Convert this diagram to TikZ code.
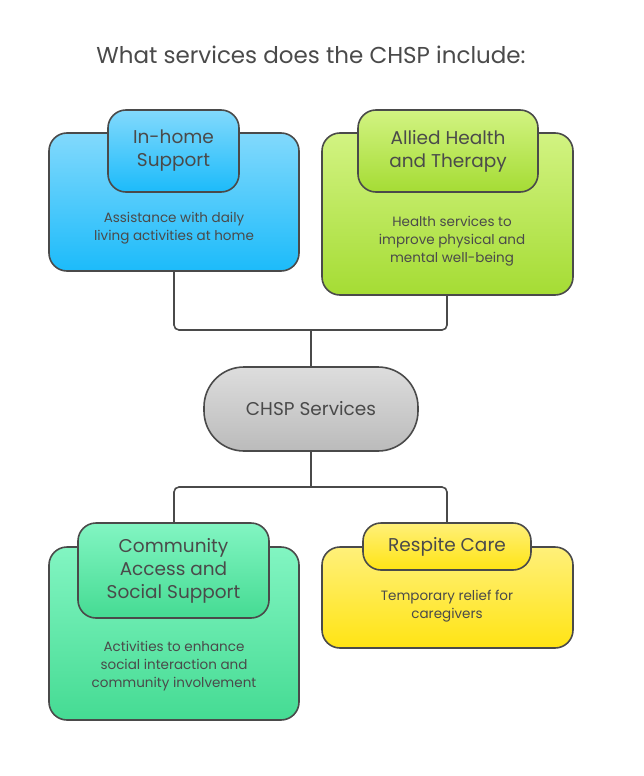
\documentclass[tikz,border=0pt]{standalone}
\usepackage{fontspec}
\setmainfont{Poppins}
\definecolor{bT}{HTML}{82D9FC}\definecolor{bB}{HTML}{1CBBFA}
\definecolor{gT}{HTML}{D2F382}\definecolor{gB}{HTML}{A5DC34}
\definecolor{tT}{HTML}{82F5C2}\definecolor{tB}{HTML}{45DB93}
\definecolor{yT}{HTML}{FFF07A}\definecolor{yB}{HTML}{FFE414}
\definecolor{cT}{HTML}{DDDDDD}\definecolor{cB}{HTML}{BBBBBB}
\definecolor{tx}{HTML}{4A4A4A}
\begin{document}
\begin{tikzpicture}[x=1pt,y=-1pt,
 box/.style={draw=tx,line width=1.6pt,rounded corners=18pt,inner sep=0pt},
 hd/.style={font=\fontsize{18.5}{23}\selectfont,text=tx,align=center},
 ds/.style={font=\fontsize{13.5}{18}\selectfont,text=tx,align=center},
 ln/.style={draw=tx,line width=1.6pt,rounded corners=5pt}]
\useasboundingbox (0,0) rectangle (644,776);
\fill[white] (0,0) rectangle (644,776);
\node[font=\fontsize{23}{26}\selectfont,text=tx] (title) at (311,55) {What services does the CHSP include:};
% connectors
\coordinate (j1) at (311,330);
\coordinate (j2) at (311,487);
\draw[ln] (174,271) |- (j1);
\draw[ln] (447,295) |- (j1);
\draw[ln] (j1) -- (311,367);
\draw[ln] (311,451) -- (j2);
\draw[ln] (174,547) |- (j2);
\draw[ln] (447,547) |- (j2);
% box1
\path[box,top color=bT,bottom color=bB] (49,133) rectangle (299,271);
\path[box,top color=bT,bottom color=bB] (108,110) rectangle (239,192);
\node[hd] (h1) at (173.5,151) {In-home\\Support};
\node[ds] (d1) at (174,228) {Assistance with daily\\living activities at home};
% box2
\path[box,top color=gT,bottom color=gB] (322,133) rectangle (573,295);
\path[box,top color=gT,bottom color=gB] (358,110) rectangle (538,192);
\node[hd] (h2) at (448,151) {Allied Health\\and Therapy};
\node[ds] (d2) at (452,241) {Health services to\\improve physical and\\mental well-being};
% center
\path[draw=tx,line width=1.6pt,rounded corners=40pt,top color=cT,bottom color=cB] (204,367) rectangle (418,451);
\node[hd] (c) at (311,409) {CHSP Services};
% box3
\path[box,top color=tT,bottom color=tB] (49,547) rectangle (299,720);
\path[box,top color=tT,bottom color=tB] (78,523) rectangle (269,618);
\node[hd] (h3) at (173.5,571) {Community\\Access and\\Social Support};
\node[ds] (d3) at (174,666) {Activities to enhance\\social interaction and\\community involvement};
% box4
\path[box,top color=yT,bottom color=yB] (322,547) rectangle (573,648);
\path[box,top color=yT,bottom color=yB] (363,523) rectangle (531,570);
\node[hd] (h4) at (447,547) {Respite Care};
\node[ds] (d4) at (447,606) {Temporary relief for\\caregivers};
\end{tikzpicture}
\end{document}
